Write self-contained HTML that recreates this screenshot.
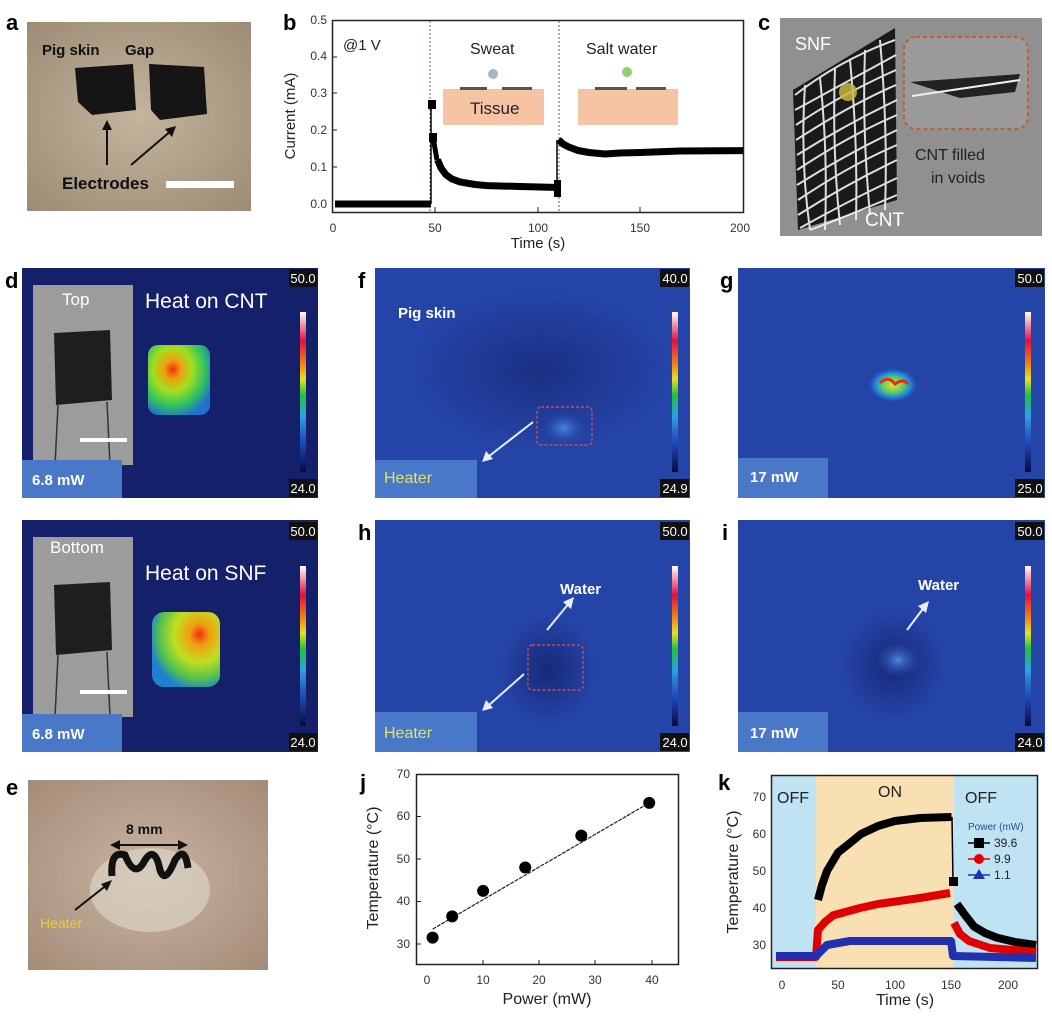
<!DOCTYPE html>
<html><head><meta charset="utf-8"><style>
html,body{margin:0;padding:0;background:#fff;}
svg{display:block;font-family:"Liberation Sans",Arial,sans-serif;}
</style></head><body>
<svg width="1052" height="1016" viewBox="0 0 1052 1016" xmlns="http://www.w3.org/2000/svg">
<defs>
<linearGradient id="cbar" x1="0" y1="1" x2="0" y2="0">
<stop offset="0" stop-color="#0a0a40"/><stop offset="0.2" stop-color="#2050c0"/><stop offset="0.35" stop-color="#30a0e0"/><stop offset="0.48" stop-color="#20c040"/><stop offset="0.58" stop-color="#e8e020"/><stop offset="0.68" stop-color="#f08010"/><stop offset="0.82" stop-color="#e01040"/><stop offset="1" stop-color="#fff"/>
</linearGradient>
<radialGradient id="hot1" cx="0.4" cy="0.35" r="0.7">
<stop offset="0" stop-color="#f03010"/><stop offset="0.2" stop-color="#f0a010"/><stop offset="0.45" stop-color="#a0e020"/><stop offset="0.75" stop-color="#30c060"/><stop offset="1" stop-color="#2070d0"/>
</radialGradient>
<radialGradient id="hot2" cx="0.7" cy="0.3" r="0.75">
<stop offset="0" stop-color="#f03010"/><stop offset="0.2" stop-color="#f0a010"/><stop offset="0.5" stop-color="#c0e020"/><stop offset="0.8" stop-color="#50c050"/><stop offset="1" stop-color="#2080d0"/>
</radialGradient>
<radialGradient id="hotg" cx="0.5" cy="0.5" r="0.5">
<stop offset="0" stop-color="#f0e030"/><stop offset="0.4" stop-color="#60d060"/><stop offset="0.7" stop-color="#2080e0"/><stop offset="1" stop-color="#2340a8" stop-opacity="0"/>
</radialGradient>
<radialGradient id="dark" cx="0.5" cy="0.5" r="0.5">
<stop offset="0" stop-color="#14226a"/><stop offset="1" stop-color="#14226a" stop-opacity="0"/>
</radialGradient>
<radialGradient id="lite" cx="0.5" cy="0.5" r="0.5">
<stop offset="0" stop-color="#4a86e0"/><stop offset="1" stop-color="#2a4cb0" stop-opacity="0"/>
</radialGradient>
<radialGradient id="skin" cx="0.5" cy="0.5" r="0.7">
<stop offset="0" stop-color="#c3b49e"/><stop offset="1" stop-color="#9c8c76"/>
</radialGradient>
<radialGradient id="skin2" cx="0.5" cy="0.5" r="0.7">
<stop offset="0" stop-color="#c9b4a2"/><stop offset="1" stop-color="#a48c78"/>
</radialGradient>
</defs>

<!-- a -->
<text x="6" y="30" font-size="22" font-weight="bold">a</text>
<rect x="27" y="22" width="224" height="189" fill="url(#skin)"/>
<path d="M75 68 L133 64 L136 110 L92 115 L78 102 Z" fill="#151515"/>
<path d="M149 64 L204 67 L207 114 L160 120 L151 110 Z" fill="#151515"/>
<text x="42" y="55" font-size="15" font-weight="bold" fill="#111">Pig skin</text>
<text x="125" y="55" font-size="15" font-weight="bold" fill="#111">Gap</text>
<line x1="107" y1="165" x2="107" y2="126" stroke="#111" stroke-width="2"/>
<polygon points="107,120 102,130 112,130" fill="#111"/>
<line x1="131" y1="165" x2="172" y2="130" stroke="#111" stroke-width="2"/>
<polygon points="176,126 165,129 172,137" fill="#111"/>
<text x="62" y="189" font-size="17" font-weight="bold" fill="#111">Electrodes</text>
<rect x="166" y="181" width="68" height="7" fill="#fff"/>

<!-- b -->
<text x="283" y="30" font-size="22" font-weight="bold">b</text>
<rect x="332.5" y="20.5" width="411" height="192" fill="none" stroke="#222" stroke-width="1.5"/>
<g font-size="12" fill="#333" text-anchor="end">
<text x="327" y="208">0.0</text><text x="327" y="171">0.1</text><text x="327" y="134">0.2</text><text x="327" y="97">0.3</text><text x="327" y="60">0.4</text><text x="327" y="24">0.5</text>
</g>
<g font-size="12" fill="#333" text-anchor="middle">
<text x="333" y="232">0</text><text x="435" y="232">50</text><text x="538" y="232">100</text><text x="640" y="232">150</text><text x="740" y="232">200</text>
</g>
<text x="538" y="248" font-size="15" text-anchor="middle" fill="#222">Time (s)</text>
<text transform="translate(295,116) rotate(-90)" font-size="15" text-anchor="middle" fill="#222">Current (mA)</text>
<g stroke="#222" stroke-width="1">
<line x1="333" y1="167" x2="337" y2="167"/><line x1="333" y1="130" x2="337" y2="130"/><line x1="333" y1="93" x2="337" y2="93"/><line x1="333" y1="57" x2="337" y2="57"/>
<line x1="435" y1="212" x2="435" y2="207"/><line x1="538" y1="212" x2="538" y2="207"/><line x1="640" y1="212" x2="640" y2="207"/>
</g>
<line x1="430" y1="21" x2="430" y2="212" stroke="#6a6a20" stroke-dasharray="2,2"/>
<line x1="559" y1="21" x2="559" y2="212" stroke="#6a6a20" stroke-dasharray="2,2"/>
<text x="343" y="50" font-size="15" fill="#222">@1 V</text>
<text x="470" y="54" font-size="16" fill="#222">Sweat</text>
<circle cx="493" cy="74" r="5" fill="#a8b4c4"/>
<rect x="443" y="89" width="101" height="36" fill="#f6c4a4"/>
<rect x="460" y="87" width="27" height="3" fill="#555"/><rect x="502" y="87" width="30" height="3" fill="#555"/>
<text x="470" y="114" font-size="17" fill="#222">Tissue</text>
<text x="586" y="54" font-size="16" fill="#222">Salt water</text>
<circle cx="627" cy="72" r="5" fill="#8cd070"/>
<rect x="578" y="89" width="100" height="36" fill="#f6c4a4"/>
<rect x="595" y="87" width="32" height="3" fill="#555"/><rect x="636" y="87" width="30" height="3" fill="#555"/>
<polyline fill="none" stroke="#000" stroke-width="7" stroke-linejoin="round" points="335,204 431,204"/>
<polyline fill="none" stroke="#000" stroke-width="7" stroke-linejoin="round" points="437.6,159.8 441,168 445.8,174.6 452,179 460,181.9 475,184.5 487,185.6 520,186.5 554.4,187.4"/>
<polyline fill="none" stroke="#000" stroke-width="7" stroke-linejoin="round" points="558.5,139.6 563,144 568.8,147 578,150.5 589,152.5 605,154 620,153 640.5,152.5 680,151 743,150.6"/>
<line x1="431" y1="204" x2="431" y2="105" stroke="#000" stroke-width="1.5"/>
<rect x="428" y="100" width="8" height="9" fill="#000"/><rect x="429" y="133" width="8" height="9" fill="#000"/>
<line x1="433" y1="137" x2="437" y2="160" stroke="#000" stroke-width="5"/>
<rect x="554" y="180" width="7" height="17" fill="#000"/>
<line x1="557" y1="196" x2="557" y2="140" stroke="#000" stroke-width="1.5"/>

<!-- c -->
<text x="758" y="30" font-size="22" font-weight="bold">c</text>
<rect x="780" y="18" width="262" height="218" fill="#909090"/>
<path d="M793 90 L895 28 L897 200 L798 230 Z" fill="#1a1a1a"/>
<g stroke="#f4f4f4" stroke-width="2" fill="none" opacity="0.9">
<path d="M795 95 Q840 60 895 40 M795 110 Q850 80 896 55 M796 125 Q840 95 896 70 M796 140 Q850 105 896 85 M797 155 Q845 125 897 100 M797 170 Q850 135 897 115 M797 185 Q845 155 897 130 M798 200 Q850 165 897 145 M798 215 Q845 185 897 160 M800 228 Q850 200 897 178 M810 230 Q850 215 897 195"/>
<path d="M805 85 Q800 160 810 230 M820 78 Q828 150 825 230 M835 68 Q832 150 840 225 M850 60 Q858 140 856 220 M865 50 Q862 130 870 215 M880 40 Q888 130 885 210"/>
</g>
<circle cx="848" cy="92" r="9" fill="#c8b840" opacity="0.85"/>
<rect x="904" y="37" width="124" height="92" rx="12" fill="#9a9a9a" stroke="#c06030" stroke-width="2" stroke-dasharray="4,3"/>
<path d="M910 82 L1020 74 L1015 92 L960 98 Z" fill="#222"/>
<line x1="912" y1="96" x2="1020" y2="80" stroke="#eee" stroke-width="2"/>
<text x="795" y="50" font-size="18" fill="#fff">SNF</text>
<text x="915" y="160" font-size="16" fill="#222">CNT  filled</text>
<text x="931" y="183" font-size="16" fill="#222">in voids</text>
<text x="865" y="226" font-size="19" fill="#fff">CNT</text>

<!-- d top -->
<text x="5" y="288" font-size="22" font-weight="bold">d</text>
<rect x="22" y="268" width="296" height="230" fill="#15206a"/>
<rect x="33" y="285" width="100" height="180" fill="#9c9c9c"/>
<path d="M54 333 L110 330 L112 400 L56 405 Z" fill="#1e1e1e"/>
<line x1="58" y1="405" x2="55" y2="465" stroke="#333" stroke-width="1.5"/><line x1="107" y1="402" x2="110" y2="465" stroke="#333" stroke-width="1.5"/>
<rect x="80" y="438" width="47" height="4" fill="#fff"/>
<text x="62" y="305" font-size="17" fill="#fff">Top</text>
<text x="145" y="308" font-size="21" fill="#fff">Heat on CNT</text>
<rect x="148" y="345" width="62" height="70" rx="10" fill="url(#hot1)"/>
<rect x="22" y="460" width="100" height="38" fill="#4a78c8"/>
<text x="32" y="485" font-size="15" font-weight="bold" fill="#fff">6.8 mW</text>
<rect x="300" y="312" width="6" height="160" fill="url(#cbar)"/>
<rect x="289" y="269" width="28" height="18" fill="#101010"/><text x="303" y="283" font-size="13" fill="#fff" text-anchor="middle">50.0</text>
<rect x="289" y="479" width="28" height="18" fill="#101010"/><text x="303" y="493" font-size="13" fill="#fff" text-anchor="middle">24.0</text>

<!-- d bottom -->
<rect x="22" y="520" width="296" height="232" fill="#15206a"/>
<rect x="33" y="537" width="100" height="180" fill="#9c9c9c"/>
<path d="M54 585 L110 582 L112 650 L56 655 Z" fill="#1e1e1e"/>
<line x1="58" y1="655" x2="55" y2="717" stroke="#333" stroke-width="1.5"/><line x1="107" y1="652" x2="110" y2="717" stroke="#333" stroke-width="1.5"/>
<rect x="80" y="690" width="47" height="4" fill="#fff"/>
<text x="50" y="553" font-size="17" fill="#fff">Bottom</text>
<text x="145" y="580" font-size="21" fill="#fff">Heat on SNF</text>
<rect x="152" y="612" width="68" height="75" rx="12" fill="url(#hot2)"/>
<rect x="22" y="714" width="100" height="38" fill="#4a78c8"/>
<text x="32" y="739" font-size="15" font-weight="bold" fill="#fff">6.8 mW</text>
<rect x="300" y="566" width="6" height="160" fill="url(#cbar)"/>
<rect x="289" y="522" width="28" height="18" fill="#101010"/><text x="303" y="536" font-size="13" fill="#fff" text-anchor="middle">50.0</text>
<rect x="289" y="733" width="28" height="18" fill="#101010"/><text x="303" y="747" font-size="13" fill="#fff" text-anchor="middle">24.0</text>

<!-- f -->
<text x="358" y="288" font-size="22" font-weight="bold">f</text>
<rect x="375" y="268" width="315" height="230" fill="#2544a8"/>
<ellipse cx="540" cy="370" rx="130" ry="80" fill="url(#dark)" opacity="0.6"/>
<ellipse cx="564" cy="428" rx="22" ry="16" fill="url(#lite)"/>
<rect x="537" y="407" width="55" height="38" rx="4" fill="none" stroke="#e05050" stroke-width="1.2" stroke-dasharray="3,2"/>
<line x1="533" y1="422" x2="488" y2="457" stroke="#e8ecff" stroke-width="2"/>
<polygon points="482,462 486,451 493,459" fill="#e8ecff"/>
<text x="398" y="318" font-size="15" font-weight="bold" fill="#fff">Pig skin</text>
<rect x="375" y="460" width="102" height="38" fill="#4a78c8"/>
<text x="384" y="483" font-size="16" fill="#e6e060">Heater</text>
<rect x="672" y="312" width="6" height="160" fill="url(#cbar)"/>
<rect x="660" y="269" width="29" height="18" fill="#101010"/><text x="675" y="283" font-size="13" fill="#fff" text-anchor="middle">40.0</text>
<rect x="660" y="479" width="29" height="18" fill="#101010"/><text x="675" y="493" font-size="13" fill="#fff" text-anchor="middle">24.9</text>

<!-- g -->
<text x="720" y="288" font-size="22" font-weight="bold">g</text>
<rect x="738" y="268" width="307" height="230" fill="#2544a8"/>
<ellipse cx="893" cy="385" rx="26" ry="18" fill="url(#hotg)"/>
<path d="M880 383 Q888 375 895 384 Q903 378 908 384" stroke="#e03020" stroke-width="3" fill="none"/>
<rect x="738" y="458" width="90" height="40" fill="#4a78c8"/>
<text x="750" y="482" font-size="15" font-weight="bold" fill="#fff">17 mW</text>
<rect x="1025" y="312" width="6" height="160" fill="url(#cbar)"/>
<rect x="1015" y="269" width="29" height="18" fill="#101010"/><text x="1030" y="283" font-size="13" fill="#fff" text-anchor="middle">50.0</text>
<rect x="1015" y="479" width="29" height="18" fill="#101010"/><text x="1030" y="493" font-size="13" fill="#fff" text-anchor="middle">25.0</text>

<!-- h -->
<text x="358" y="540" font-size="22" font-weight="bold">h</text>
<rect x="375" y="520" width="315" height="232" fill="#2544a8"/>
<ellipse cx="548" cy="670" rx="48" ry="55" fill="url(#dark)" opacity="0.8"/>
<rect x="528" y="645" width="55" height="45" rx="4" fill="none" stroke="#e05050" stroke-width="1.2" stroke-dasharray="3,2"/>
<line x1="547" y1="630" x2="570" y2="602" stroke="#e8ecff" stroke-width="2"/>
<polygon points="574,597 563,602 571,609" fill="#e8ecff"/>
<line x1="524" y1="674" x2="488" y2="706" stroke="#e8ecff" stroke-width="2"/>
<polygon points="482,711 486,700 493,708" fill="#e8ecff"/>
<text x="560" y="594" font-size="15" font-weight="bold" fill="#fff">Water</text>
<rect x="375" y="712" width="102" height="40" fill="#4a78c8"/>
<text x="384" y="738" font-size="16" fill="#e6e060">Heater</text>
<rect x="672" y="566" width="6" height="160" fill="url(#cbar)"/>
<rect x="660" y="522" width="29" height="18" fill="#101010"/><text x="675" y="536" font-size="13" fill="#fff" text-anchor="middle">50.0</text>
<rect x="660" y="733" width="29" height="18" fill="#101010"/><text x="675" y="747" font-size="13" fill="#fff" text-anchor="middle">24.0</text>

<!-- i -->
<text x="722" y="540" font-size="22" font-weight="bold">i</text>
<rect x="738" y="520" width="307" height="232" fill="#2544a8"/>
<ellipse cx="893" cy="665" rx="52" ry="55" fill="url(#dark)" opacity="0.8"/>
<ellipse cx="898" cy="660" rx="22" ry="18" fill="url(#lite)"/>
<line x1="907" y1="630" x2="925" y2="606" stroke="#e8ecff" stroke-width="2"/>
<polygon points="929,601 918,606 926,613" fill="#e8ecff"/>
<text x="918" y="590" font-size="15" font-weight="bold" fill="#fff">Water</text>
<rect x="738" y="712" width="90" height="40" fill="#4a78c8"/>
<text x="750" y="738" font-size="15" font-weight="bold" fill="#fff">17 mW</text>
<rect x="1025" y="566" width="6" height="160" fill="url(#cbar)"/>
<rect x="1015" y="522" width="29" height="18" fill="#101010"/><text x="1030" y="536" font-size="13" fill="#fff" text-anchor="middle">50.0</text>
<rect x="1015" y="733" width="29" height="18" fill="#101010"/><text x="1030" y="747" font-size="13" fill="#fff" text-anchor="middle">24.0</text>

<!-- e -->
<text x="6" y="795" font-size="22" font-weight="bold">e</text>
<rect x="28" y="780" width="240" height="190" fill="url(#skin2)"/>
<ellipse cx="150" cy="890" rx="60" ry="42" fill="#e2e0d2" opacity="0.55"/>
<path d="M112 876 Q110 850 125 855 Q135 880 145 860 Q155 845 160 870 Q165 885 175 860 Q185 845 188 868" stroke="#111" stroke-width="7" fill="none"/>
<line x1="116" y1="845" x2="182" y2="845" stroke="#111" stroke-width="2"/>
<polygon points="110,845 120,840 120,850" fill="#111"/><polygon points="188,845 178,840 178,850" fill="#111"/>
<text x="126" y="834" font-size="14" font-weight="bold" fill="#111">8 mm</text>
<line x1="75" y1="910" x2="108" y2="884" stroke="#111" stroke-width="2"/>
<polygon points="112,880 101,884 107,891" fill="#111"/>
<text x="40" y="928" font-size="14" fill="#e8d030">Heater</text>

<!-- j -->
<text x="360" y="790" font-size="22" font-weight="bold">j</text>
<rect x="416.5" y="774.5" width="262" height="190" fill="none" stroke="#222" stroke-width="1.5"/>
<g font-size="12" fill="#333" text-anchor="end">
<text x="410" y="948">30</text><text x="410" y="905">40</text><text x="410" y="863">50</text><text x="410" y="820">60</text><text x="410" y="778">70</text>
</g>
<g font-size="12" fill="#333" text-anchor="middle">
<text x="427" y="984">0</text><text x="483" y="984">10</text><text x="539" y="984">20</text><text x="595" y="984">30</text><text x="652" y="984">40</text>
</g>
<g stroke="#222"><line x1="417" y1="944" x2="421" y2="944"/><line x1="417" y1="901.5" x2="421" y2="901.5"/><line x1="417" y1="859" x2="421" y2="859"/><line x1="417" y1="816.5" x2="421" y2="816.5"/>
<line x1="483" y1="964" x2="483" y2="960"/><line x1="539" y1="964" x2="539" y2="960"/><line x1="595" y1="964" x2="595" y2="960"/><line x1="652" y1="964" x2="652" y2="960"/></g>
<text x="547" y="1004" font-size="16" text-anchor="middle" fill="#222">Power (mW)</text>
<text transform="translate(378,868) rotate(-90)" font-size="16" text-anchor="middle" fill="#222">Temperature (°C)</text>
<line x1="432.6" y1="929.1" x2="651.4" y2="801.6" stroke="#222" stroke-width="1.2" stroke-dasharray="4,1"/>
<g fill="#000"><circle cx="432.6" cy="937.6" r="6"/><circle cx="452.2" cy="916.4" r="6"/><circle cx="483.1" cy="890.9" r="6"/><circle cx="525.2" cy="867.5" r="6"/><circle cx="581.3" cy="835.6" r="6"/><circle cx="649.2" cy="802.9" r="6"/></g>

<!-- k -->
<text x="718" y="790" font-size="22" font-weight="bold">k</text>
<rect x="771" y="775" width="45" height="194" fill="#bfe3f2"/>
<rect x="816" y="775" width="138" height="194" fill="#f8e0b2"/>
<rect x="954" y="775" width="84" height="194" fill="#bfe3f2"/>
<rect x="771.5" y="775.5" width="266" height="193" fill="none" stroke="#222" stroke-width="1.5"/>
<g font-size="12" fill="#333" text-anchor="end">
<text x="766" y="949">30</text><text x="766" y="912">40</text><text x="766" y="875">50</text><text x="766" y="838">60</text><text x="766" y="801">70</text>
</g>
<g font-size="12" fill="#333" text-anchor="middle">
<text x="782" y="989">0</text><text x="838" y="989">50</text><text x="895" y="989">100</text><text x="951" y="989">150</text><text x="1008" y="989">200</text>
</g>
<text x="905" y="1005" font-size="16" text-anchor="middle" fill="#222">Time (s)</text>
<text transform="translate(738,872) rotate(-90)" font-size="16" text-anchor="middle" fill="#222">Temperature (°C)</text>
<text x="777" y="803" font-size="16" fill="#222">OFF</text>
<text x="878" y="797" font-size="16" fill="#222">ON</text>
<text x="965" y="803" font-size="16" fill="#222">OFF</text>
<polyline fill="none" stroke="#000" stroke-width="8" stroke-linejoin="round" points="776,956 816,956"/>
<polyline fill="none" stroke="#000" stroke-width="8" stroke-linejoin="round" points="818,900 822,885 827,871 838,852.5 850,843 861,834 878,826 895,821 920,818 951.5,817"/>
<line x1="952" y1="817" x2="953" y2="882" stroke="#000" stroke-width="1.5"/>
<rect x="949" y="877" width="9" height="9" fill="#000"/>
<polyline fill="none" stroke="#000" stroke-width="8" stroke-linejoin="round" points="957,904 965,915 974,926.5 985,933 996.7,937.6 1015,942 1036,945"/>
<polyline fill="none" stroke="#e00000" stroke-width="8" stroke-linejoin="round" points="776,957 816,957 818,930 825,922 833,915.4 860,908 878,904 920,898 950,893"/>
<polyline fill="none" stroke="#e00000" stroke-width="8" stroke-linejoin="round" points="954,922.8 960,934 969,941 990,948 1036,952"/>
<polyline fill="none" stroke="#2030b0" stroke-width="8" stroke-linejoin="round" points="776,956 816,956 822,950 827,945 850,941 951,941 953,956 1036,958"/>
<text x="968" y="830" font-size="10" fill="#2a4aa0">Power (mW)</text>
<line x1="968" y1="843" x2="990" y2="843" stroke="#000" stroke-width="1.5"/><rect x="974" y="838" width="10" height="10" fill="#000"/><text x="994" y="847" font-size="12" fill="#222">39.6</text>
<line x1="968" y1="859" x2="990" y2="859" stroke="#e00000" stroke-width="1.5"/><circle cx="979" cy="859" r="5" fill="#e00000"/><text x="994" y="863" font-size="12" fill="#222">9.9</text>
<line x1="968" y1="875" x2="990" y2="875" stroke="#2030b0" stroke-width="1.5"/><polygon points="979,869 985,879 973,879" fill="#2030b0"/><text x="994" y="879" font-size="12" fill="#222">1.1</text>
</svg>
</body></html>
